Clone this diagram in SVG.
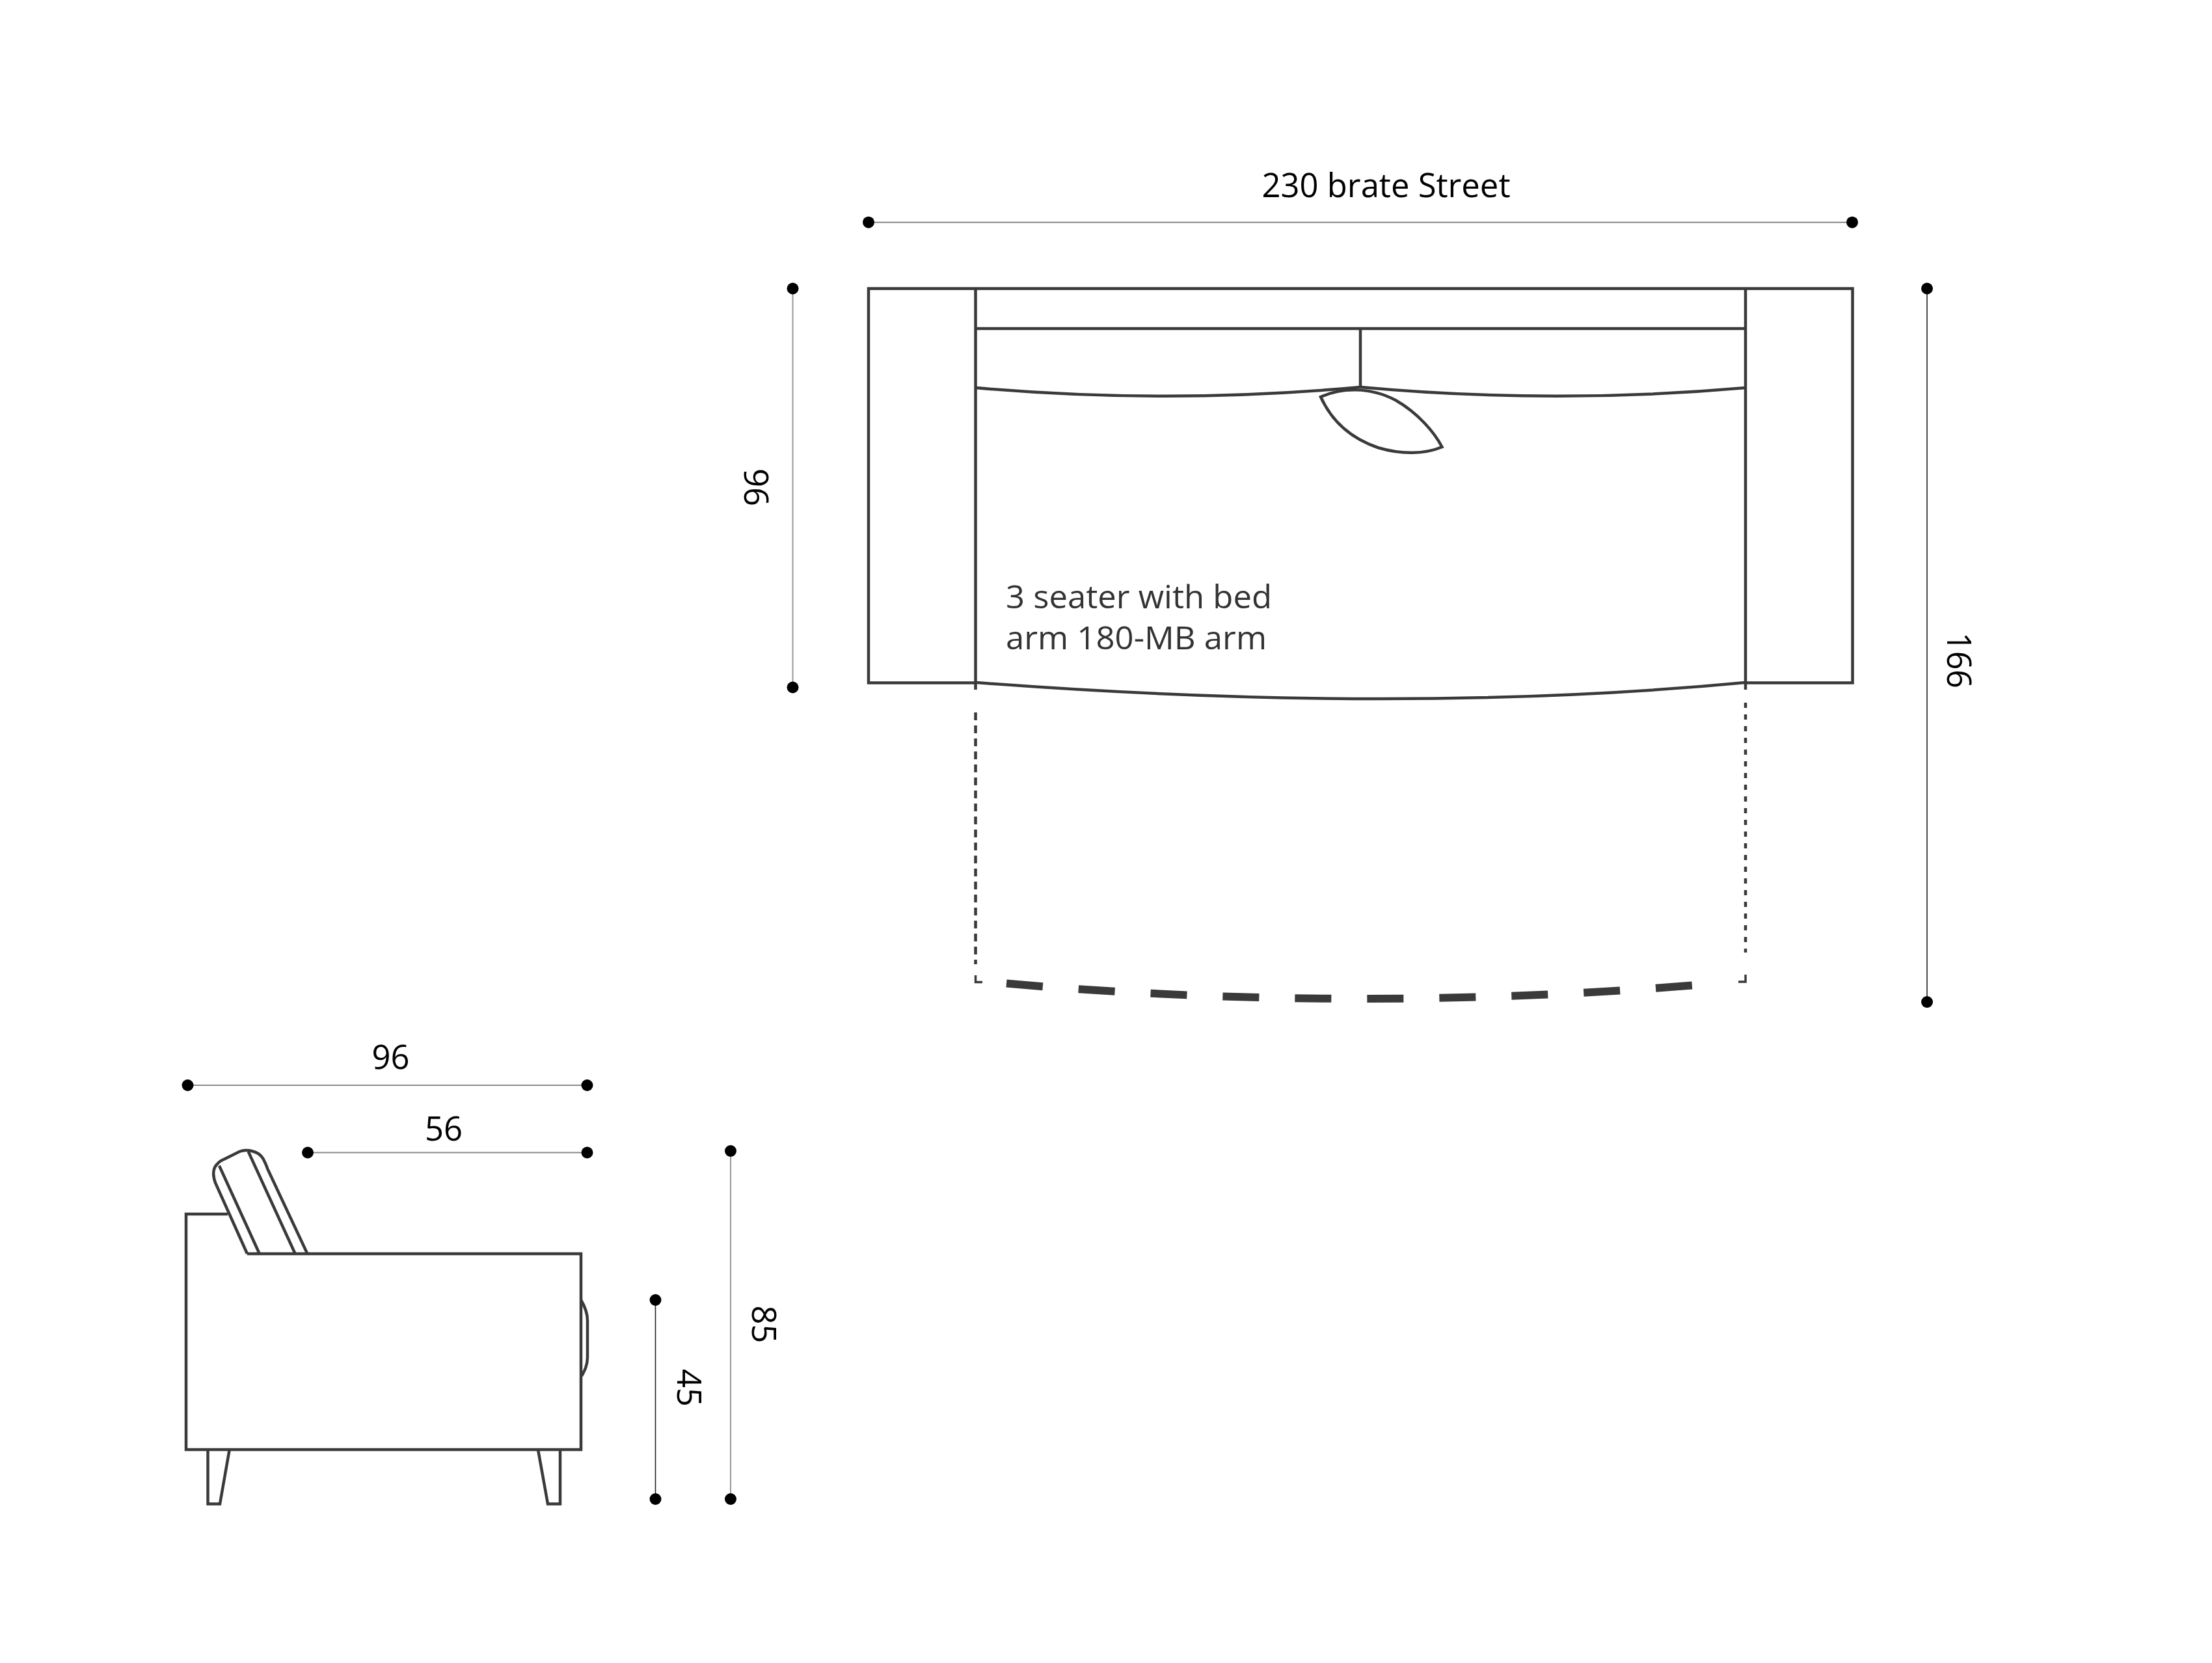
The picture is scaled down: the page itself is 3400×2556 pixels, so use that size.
<svg xmlns="http://www.w3.org/2000/svg" width="3400" height="2556" viewBox="0 0 3400 2556">
<style>
.s{fill:none;stroke:#3a3a3a;stroke-width:4.5;stroke-linejoin:miter}
.d{fill:none;stroke:#8a8a8a;stroke-width:2}
.k{fill:none;stroke:#222;stroke-width:1.6}
.t{font-family:"Open Sans","Noto Sans",sans-serif;font-size:52px;fill:#000;text-anchor:middle}
.c{font-family:"Open Sans","Noto Sans",sans-serif;font-size:50px;fill:#333}
.dot{fill:#000}
</style>
<rect width="3400" height="2556" fill="#fff"/>
<g id="top-view">
<path class="s" d="M1499.5 1049.5H1335V443.5H2847.5V1049.5H2683"/>
<path class="s" d="M1499.5 443V1060M2683 443V1060"/>
<path class="s" d="M1500 505H2683M2091 505V595"/>
<path class="s" d="M1500 596Q1795 622 2091 595Q2387 622 2683 596"/>
<path class="s" d="M1500 1049Q2156 1099 2683 1049"/>
<path class="s" d="M2030 610C2062 596 2105 594 2145 615C2180 635 2205 665 2216.5 687C2190 698 2155 699 2118 688C2080 675 2048 650 2030 610Z"/>
<path class="s" style="stroke-dasharray:12 8" d="M1499.5 1095V1482"/>
<path class="s" style="stroke-dasharray:8 10" d="M2683 1080V1464"/>
<path class="s" style="stroke-width:3.5" d="M1499.5 1499V1509.5H1510M2672 1509H2683V1498"/>
<path class="s" style="stroke-width:12;stroke-dasharray:56 55" d="M1547 1511.6Q2075 1557 2603 1514.3"/>
</g>
<g id="side-view">
<path class="s" d="M350 1866H286V2228H893V1927H380"/>
<path class="s" d="M380 1927L331 1818C326 1804 328 1794 335 1788C338 1784 342 1783 346 1781L368 1770C378 1766 398 1768 405 1782C408 1788 410 1792 411 1796L472 1926"/>
<path class="s" d="M337 1791.7L398.7 1926.7M381.7 1770L453.6 1926.7"/>
<path class="s" d="M893 1998C899 2008 903 2018 903 2030V2086C903 2098 899 2106 894 2115"/>
<path class="s" d="M319.5 2228V2311.5H338L352.7 2228"/>
<path class="s" d="M827 2228L842 2311.5H861V2228"/>
</g>
<g id="connectors">
<path class="d" d="M1335 341.7H2847"/>
<path class="d" style="stroke:#999" d="M1218.5 443V1056.5"/>
<path class="k" d="M2962 443V1540"/>
<path class="d" d="M288.5 1668H902.5"/>
<path class="d" d="M473 1771.5H902.5"/>
<path class="k" d="M1007.5 1998V2304"/>
<path class="d" style="stroke:#999" d="M1123 1769V2304"/>
</g>
<g id="dots">
<circle class="dot" cx="1335" cy="341.7" r="9"/><circle class="dot" cx="2847" cy="341.7" r="9"/>
<circle class="dot" cx="1218.5" cy="443.5" r="9"/><circle class="dot" cx="1218.5" cy="1056.5" r="9"/>
<circle class="dot" cx="2962" cy="443.5" r="9"/><circle class="dot" cx="2962" cy="1540" r="9"/>
<circle class="dot" cx="288.5" cy="1668" r="9"/><circle class="dot" cx="902.5" cy="1668" r="9"/>
<circle class="dot" cx="473" cy="1771.5" r="9"/><circle class="dot" cx="902.5" cy="1771.5" r="9"/>
<circle class="dot" cx="1007.5" cy="1998" r="9"/><circle class="dot" cx="1007.5" cy="2304" r="9"/>
<circle class="dot" cx="1123" cy="1769" r="9"/><circle class="dot" cx="1123" cy="2304" r="9"/>
</g>
<g id="labels">
<text class="t" x="2130.5" y="303" textLength="382" lengthAdjust="spacingAndGlyphs">230 brate Street</text>
<text class="c" x="1546" y="935" textLength="409" lengthAdjust="spacingAndGlyphs">3 seater with bed</text>
<text class="c" x="1546" y="998" textLength="401" lengthAdjust="spacingAndGlyphs">arm 180-MB arm</text>
<text class="t" x="600.5" y="1643" textLength="58" lengthAdjust="spacingAndGlyphs">96</text>
<text class="t" x="682" y="1753" textLength="58" lengthAdjust="spacingAndGlyphs">56</text>
<text class="t" transform="translate(1144 749) rotate(90)" textLength="58" lengthAdjust="spacingAndGlyphs">96</text>
<text class="t" transform="translate(2993 1015) rotate(90)" textLength="86" lengthAdjust="spacingAndGlyphs">166</text>
<text class="t" transform="translate(1041 2133) rotate(90)" textLength="58" lengthAdjust="spacingAndGlyphs">45</text>
<text class="t" transform="translate(1156 2035.5) rotate(90)" textLength="58" lengthAdjust="spacingAndGlyphs">85</text>
</g>
</svg>
